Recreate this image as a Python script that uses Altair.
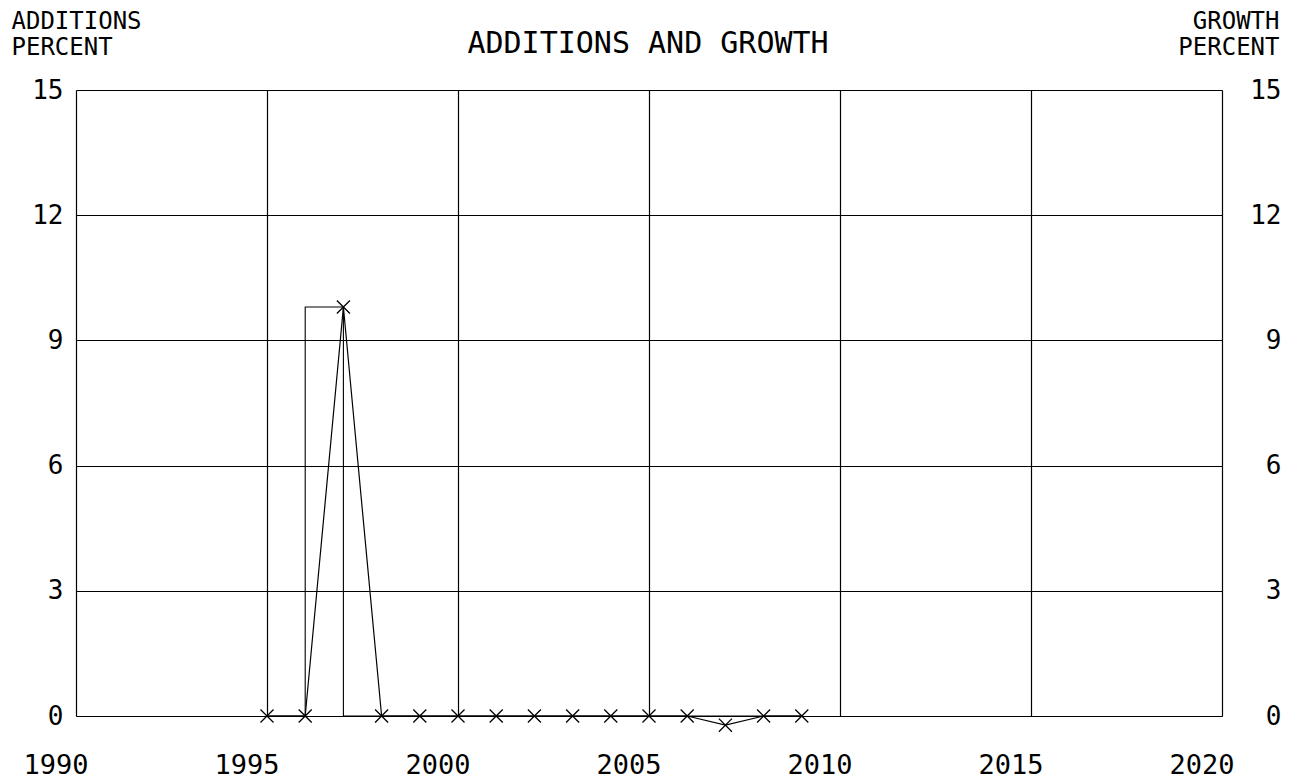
import altair as alt
import pandas as pd

years = list(range(1995, 2010))
additions = [0, 9.8, 0, 0, 0, 0, 0, 0, 0, 0, 0, 0, 0, 0, 0]
growth = [0, 0, 9.8, 0, 0, 0, 0, 0, 0, 0, 0, 0, -0.22, 0, 0]
x_ticks = [1990, 1995, 2000, 2005, 2010, 2015, 2020]
y_ticks = [0, 3, 6, 9, 12, 15]
chart_title = "ADDITIONS AND GROWTH"

df = pd.DataFrame({"year": years, "additions": additions, "growth": growth})
ticks_df = pd.DataFrame({"tick": x_ticks, "label": [str(t) for t in x_ticks]})

FONT = "DejaVu Sans Mono"
X_MARK = "M-1,-1L1,1M-1,1L1,-1"
xscale = alt.Scale(domain=[1990, 2020], nice=False, zero=False)
yscale = alt.Scale(domain=[0, 15], nice=False)

x_enc = alt.X(
    "year:Q", scale=xscale,
    axis=alt.Axis(values=x_ticks, title=None, grid=True, gridColor="black",
                  gridWidth=1.2, gridOpacity=1, ticks=False, domain=False, labels=False),
)

add_line = alt.Chart(df).mark_line(interpolate="step-after", color="black", strokeWidth=1.1, clip=False).encode(
    x=x_enc,
    y=alt.Y("additions:Q", scale=yscale,
            axis=alt.Axis(values=y_ticks, orient="left", grid=True, gridColor="black",
                          gridWidth=1.2, gridOpacity=1, ticks=False, domain=False,
                          labelPadding=13, labelFontSize=26, labelFont=FONT, labelColor="black",
                          labelFlush=False,
                          title=["ADDITIONS", "PERCENT"], titleAngle=0, titleAlign="left",
                          titleBaseline="alphabetic", titleX=-65, titleY=-62, titleFont=FONT,
                          titleFontSize=24, titleFontWeight="normal", titleColor="black",
                          titleLineHeight=26)),
)

growth_y = alt.Y("growth:Q", scale=yscale,
                 axis=alt.Axis(values=y_ticks, orient="right", grid=False, ticks=False, domain=False,
                               labelPadding=59, labelAlign="right", labelFontSize=26, labelFont=FONT,
                               labelColor="black", labelFlush=False,
                               title=["GROWTH", "PERCENT"], titleAngle=0, titleAlign="right",
                               titleBaseline="alphabetic", titleX=57, titleY=-62, titleFont=FONT,
                               titleFontSize=24, titleFontWeight="normal", titleColor="black",
                               titleLineHeight=26))

growth_line = alt.Chart(df).mark_line(color="black", strokeWidth=1.2, clip=False).encode(
    x=alt.X("year:Q", scale=xscale),
    y=growth_y,
)

growth_pts = alt.Chart(df).mark_point(shape=X_MARK, filled=False, color="black", size=170,
                                      strokeWidth=1.3, opacity=1, clip=False).encode(
    x=alt.X("year:Q", scale=xscale),
    y=growth_y,
)

xlabels = alt.Chart(ticks_df).mark_text(
    font=FONT, fontSize=27, color="black", align="center", baseline="alphabetic", dx=-20
).encode(x=alt.X("tick:Q", scale=xscale), y=alt.value(684), text="label:N")

title_txt = alt.Chart(pd.DataFrame({"t": [chart_title]})).mark_text(
    font=FONT, fontSize=30, color="black", align="center", baseline="alphabetic"
).encode(x=alt.value(572), y=alt.value(-37), text="t:N")

growth_layer = alt.layer(growth_line, growth_pts)

chart = alt.layer(add_line, growth_layer, xlabels, title_txt).resolve_scale(y="independent").properties(
    width=1146,
    height=626,
    autosize=alt.AutoSizeParams(type="none"),
    padding={"left": 68, "top": 82, "right": 70, "bottom": 66},
).configure_view(stroke="black", strokeWidth=1.4).configure(background="white")

chart.save("out.html", embed_options={"renderer": "svg", "actions": False})
